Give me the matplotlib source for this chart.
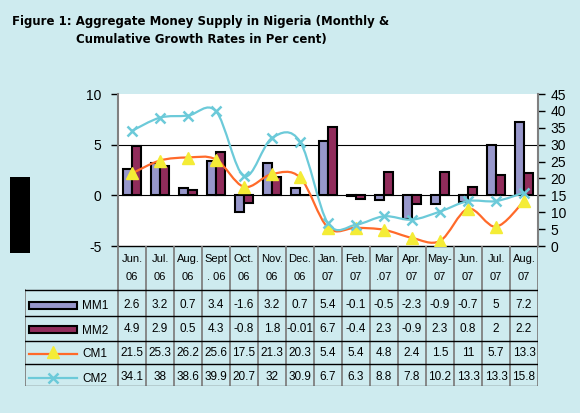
import matplotlib
matplotlib.use("Agg")
import matplotlib.pyplot as plt
import numpy as np
from matplotlib.path import Path
from matplotlib.patches import PathPatch, Rectangle
from matplotlib.lines import Line2D

plt.rcParams['font.family'] = ['Liberation Sans', 'DejaVu Sans']
plt.rcParams['axes.unicode_minus'] = False

# ---------------- data ----------------
months_top = ["Jun.", "Jul.", "Aug.", "Sept", "Oct.", "Nov.", "Dec.", "Jan.", "Feb.", "Mar", "Apr.", "May-", "Jun.", "Jul.", "Aug."]
months_bot = ["06", "06", "06", ". 06", "06", "06", "06", "07", "07", ".07", "07", "07", "07", "07", "07"]
mm1 = [2.6, 3.2, 0.7, 3.4, -1.6, 3.2, 0.7, 5.4, -0.1, -0.5, -2.3, -0.9, -0.7, 5, 7.2]
mm2 = [4.9, 2.9, 0.5, 4.3, -0.8, 1.8, -0.01, 6.7, -0.4, 2.3, -0.9, 2.3, 0.8, 2, 2.2]
cm1 = [21.5, 25.3, 26.2, 25.6, 17.5, 21.3, 20.3, 5.4, 5.4, 4.8, 2.4, 1.5, 11, 5.7, 13.3]
cm2 = [34.1, 38, 38.6, 39.9, 20.7, 32, 30.9, 6.7, 6.3, 8.8, 7.8, 10.2, 13.3, 13.3, 15.8]
series_names = ["MM1", "MM2", "CM1", "CM2"]
title1 = "Figure 1: Aggregate Money Supply in Nigeria (Monthly &"
title2 = "Cumulative Growth Rates in Per cent)"

# ---------------- style ----------------
W, H = 580, 413
BG = '#CEEBEF'
C_MM1 = '#9797CB'
C_MM2 = '#912C5B'
C_CM1 = '#FF6A2A'
C_CM2 = '#6CCAD9'
C_TRI = '#F4EC36'
GRAY = '#808080'

fig = plt.figure(figsize=(W / 100, H / 100), dpi=100, facecolor=BG)

def fx(px):
    return px / W

def fy(py):
    return 1 - py / H

# plot area
L, R, T, B = 118, 538, 94, 246
ax = fig.add_axes([fx(L), fy(B), fx(R - L), (B - T) / H])
ax.set_facecolor('white')
n = len(mm1)
x = np.arange(n)
ax.set_xlim(-0.5, n - 0.5)
ax.set_ylim(-5, 10)
ax.set_yticks([-5, 0, 5, 10])
ax.set_xticks([])
for yv in [0, 5]:
    ax.axhline(yv, color='black', lw=0.8, zorder=1)
ax.spines['top'].set_visible(False)
ax.spines['right'].set_visible(False)
ax.spines['left'].set_color(GRAY)
ax.spines['left'].set_linewidth(1.5)
ax.spines['bottom'].set_color('black')
ax.spines['bottom'].set_linewidth(1.0)
ax.tick_params(axis='y', direction='out', length=5, width=1, color='black',
               labelsize=10, pad=7)

bw = 0.31
ax.bar(x - bw / 2, mm1, width=bw, color=C_MM1, edgecolor='black', linewidth=1.5, zorder=2)
ax.bar(x + bw / 2, mm2, width=bw, color=C_MM2, edgecolor='black', linewidth=1.5, zorder=2)

ax2 = ax.twinx()
ax2.set_ylim(0, 45)
ax2.set_yticks(np.arange(0, 46, 5))
ax2.spines['top'].set_visible(False)
ax2.spines['left'].set_visible(False)
ax2.spines['bottom'].set_visible(False)
ax2.spines['right'].set_color(GRAY)
ax2.spines['right'].set_linewidth(1.5)
ax2.tick_params(axis='y', direction='out', length=5, width=1, color='black',
                labelsize=10, pad=4)


def smooth_path(xs, ys, t=1 / 6):
    m = len(xs)
    verts = [(xs[0], ys[0])]
    codes = [Path.MOVETO]
    for i in range(m - 1):
        x0, y0 = (xs[i - 1], ys[i - 1]) if i > 0 else (xs[i], ys[i])
        x3, y3 = (xs[i + 2], ys[i + 2]) if i + 2 < m else (xs[i + 1], ys[i + 1])
        c1 = (xs[i] + (xs[i + 1] - x0) * t, ys[i] + (ys[i + 1] - y0) * t)
        c2 = (xs[i + 1] - (x3 - xs[i]) * t, ys[i + 1] - (y3 - ys[i]) * t)
        verts += [c1, c2, (xs[i + 1], ys[i + 1])]
        codes += [Path.CURVE4] * 3
    return Path(verts, codes)

ax2.add_patch(PathPatch(smooth_path(x, cm1), fill=False, edgecolor=C_CM1, lw=1.6, zorder=3))
ax2.add_patch(PathPatch(smooth_path(x, cm2), fill=False, edgecolor=C_CM2, lw=1.6, zorder=3))
ax2.plot(x, cm1, linestyle='none', marker='^', ms=9, mfc=C_TRI, mec=C_TRI, zorder=4)
ax2.plot(x, cm2, linestyle='none', marker='x', ms=7, mew=1.8, color=C_CM2, zorder=4)

# ---------------- data table ----------------
TL, TB = 25, 386
tax = fig.add_axes([fx(TL), fy(TB), fx(R - TL), (TB - B) / H])
tax.set_xlim(-0.5 - (L - TL) / 28.0, n - 0.5)
tax.set_ylim(TB - B, 0)
tax.axis('off')
tax.patch.set_alpha(0)
xl = -0.5 - (L - TL) / 28.0

row_lines = [44, 70, 94.5, 118, 140]
for k in range(n + 1):
    tax.add_line(Line2D([k - 0.5, k - 0.5], [0, 140], color=GRAY, lw=1.3))
tax.add_line(Line2D([xl, xl], [44, 140], color=GRAY, lw=1.3))
for i, yv in enumerate(row_lines):
    tax.add_line(Line2D([xl, n - 0.5], [yv, yv], color='black' if i < 4 else '#555555', lw=1.0))

for i in range(n):
    tax.text(i, 13, months_top[i], ha='center', va='center', fontsize=8)
    tax.text(i, 31, months_bot[i], ha='center', va='center', fontsize=8)

row_text_y = [59, 83.5, 107, 131]
for vals, yv in zip([mm1, mm2, cm1, cm2], row_text_y):
    for i, v in enumerate(vals):
        tax.text(i, yv, f"{v:g}", ha='center', va='center', fontsize=8.5)

# legend keys
kx0 = -0.5 + (29 - L) / 28.0
kx1 = -0.5 + (77 - L) / 28.0
kxc = (kx0 + kx1) / 2
lx = -0.5 + (82 - L) / 28.0
tax.add_patch(Rectangle((kx0, 56), kx1 - kx0, 7, facecolor=C_MM1, edgecolor='black', lw=1.5))
tax.add_patch(Rectangle((kx0, 80), kx1 - kx0, 7, facecolor=C_MM2, edgecolor='black', lw=1.5))
tax.add_line(Line2D([kx0, kx1], [108, 108], color=C_CM1, lw=1.6))
tax.plot([kxc], [106], linestyle='none', marker='^', ms=9, mfc=C_TRI, mec=C_TRI)
tax.add_line(Line2D([kx0, kx1], [132, 132], color=C_CM2, lw=1.6))
tax.plot([kxc], [132], linestyle='none', marker='x', ms=7, mew=1.8, color=C_CM2)
for name, yv in zip(series_names, [60, 85, 108, 133]):
    tax.text(lx, yv, name, ha='left', va='center', fontsize=8.5)

# title
fig.text(fx(12), fy(21), title1, ha='left', va='center', fontsize=8.5, fontweight='bold',
         family=['DejaVu Sans'])
fig.text(fx(76), fy(40), title2, ha='left', va='center', fontsize=8.5, fontweight='bold',
         family=['DejaVu Sans'])

# black block at left
fig.patches.append(Rectangle((fx(10), fy(253)), fx(20), 76 / H, facecolor='black',
                             edgecolor='none', transform=fig.transFigure, figure=fig))

fig.savefig('out.png', dpi=100, facecolor=BG)
